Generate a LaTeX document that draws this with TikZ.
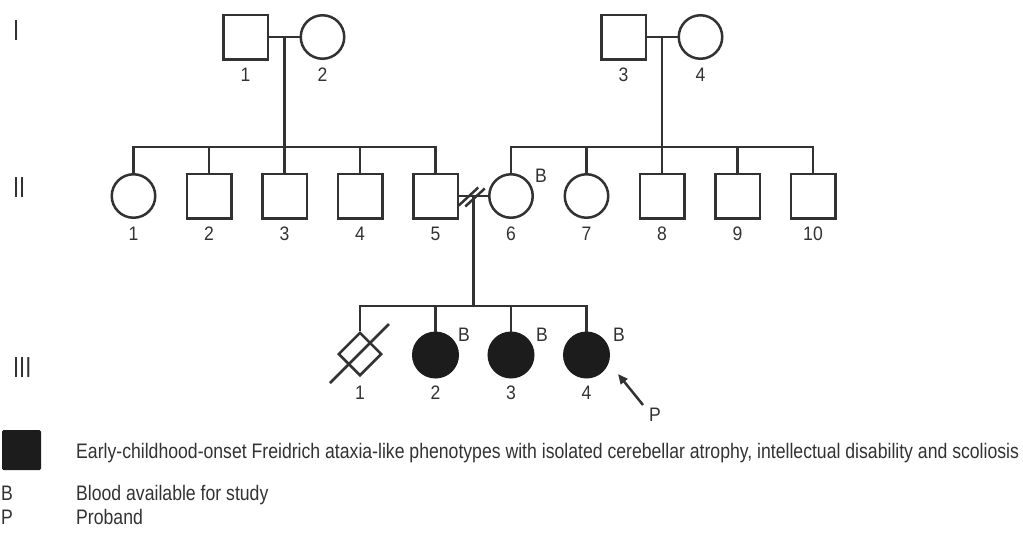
\documentclass[tikz,border=0pt]{standalone}
\usepackage{fontspec}
\setmainfont{Liberation Sans}
\newfontfamily\cond[FakeStretch=0.9]{Liberation Sans}
\newfontfamily\legf[FakeStretch=0.84]{Liberation Sans}
\newfontfamily\romf[FakeStretch=0.75]{Liberation Sans}
\usetikzlibrary{shapes.geometric,arrows.meta}
\definecolor{lc}{RGB}{50,50,50}
\definecolor{fc}{RGB}{28,28,28}
\tikzset{
 ln/.style={draw=lc,line width=2.5pt},
 male/.style={ln,rectangle,minimum size=44.5pt,inner sep=0pt},
 female/.style={ln,circle,minimum size=43.5pt,inner sep=0pt},
 aff/.style={ln,circle,minimum size=44.5pt,inner sep=0pt,fill=fc,draw=fc},
 dead/.style={ln,diamond,minimum size=43.5pt,inner sep=0pt},
 num/.style={font=\cond\fontsize{19.5}{20}\selectfont,text=lc,inner sep=0pt},
 gen/.style={font=\romf\fontsize{29}{30}\selectfont,text=lc,inner sep=0pt,anchor=west},
 leg/.style={font=\legf\fontsize{21}{22}\selectfont,text=lc,inner sep=0pt,anchor=base west},
}
\begin{document}
\begin{tikzpicture}[x=1pt,y=-1pt]
\useasboundingbox (0,0) rectangle (1023,536);
% generation numerals
\node[gen] (gI) at (13,30.5) {I};
\node[gen] (gII) at (13,187.5) {II};
\node[gen] (gIII) at (13,367.5) {III};
% generation I
\node[male] (I1) at (245.5,37) {};
\node[female] (I2) at (322.5,37) {};
\node[male] (I3) at (623.5,37) {};
\node[female] (I4) at (700.5,37) {};
\node[num] (lI1) at (245.5,75) {1};
\node[num] (lI2) at (322.5,75) {2};
\node[num] (lI3) at (623.5,75) {3};
\node[num] (lI4) at (700.5,75) {4};
\coordinate (m1) at (284.5,37);
\coordinate (m2) at (662,37);
\coordinate (sib1) at (284.5,147);
\coordinate (sib2) at (662,147);
\draw[ln] (I1.east) -- (I2.west);
\draw[ln] (I3.east) -- (I4.west);
\draw[ln] (m1) -- (sib1);
\draw[ln] (m2) -- (sib2);
% generation II
\node[female] (II1) at (133.5,196) {};
\node[male] (II2) at (209,196) {};
\node[male] (II3) at (284.5,196) {};
\node[male] (II4) at (360,196) {};
\node[male] (II5) at (435.5,196) {};
\node[female] (II6) at (511,196) {};
\node[female] (II7) at (586.5,196) {};
\node[male] (II8) at (662,196) {};
\node[male] (II9) at (737.5,196) {};
\node[male] (II10) at (813,196) {};
\node[num] (lII1) at (133.5,234) {1};
\node[num] (lII2) at (209,234) {2};
\node[num] (lII3) at (284.5,234) {3};
\node[num] (lII4) at (360,234) {4};
\node[num] (lII5) at (435.5,234) {5};
\node[num] (lII6) at (511,234) {6};
\node[num] (lII7) at (586.5,234) {7};
\node[num] (lII8) at (662,234) {8};
\node[num] (lII9) at (737.5,234) {9};
\node[num] (lII10) at (813,234) {10};
\node[num] (bII6) at (541,176) {B};
\draw[ln] (II1.north) |- (sib1) -| (II5.north);
\foreach \n in {II2,II3,II4} \draw[ln] (\n.north) -- (\n.north |- sib1);
\draw[ln] (II6.north) |- (sib2) -| (II10.north);
\foreach \n in {II7,II8,II9} \draw[ln] (\n.north) -- (\n.north |- sib2);
% marriage II-5 x II-6
\coordinate (m3) at (473.25,196);
\coordinate (sib3) at (473.25,306);
\draw[ln] (II5.east) -- (II6.west);
\draw[ln] ([shift={(-14.5,9.5)}]m3) -- ([shift={(5,-8.5)}]m3);
\draw[ln] ([shift={(-8,10.5)}]m3) -- ([shift={(11.5,-7.5)}]m3);
\draw[ln] (m3) -- (sib3);
% generation III
\node[dead] (III1) at (360,354) {};
\node[aff] (III2) at (435.5,355) {};
\node[aff] (III3) at (511,355) {};
\node[aff] (III4) at (586.5,355) {};
\draw[ln] ([shift={(-30,29)}]III1.center) -- ([shift={(29,-30)}]III1.center);
\draw[ln] (III1.north) |- (sib3) -| (III4.north);
\foreach \n in {III2,III3} \draw[ln] (\n.north) -- (\n.north |- sib3);
\node[num] (lIII1) at (360,392.5) {1};
\node[num] (lIII2) at (435.5,392.5) {2};
\node[num] (lIII3) at (511,392.5) {3};
\node[num] (lIII4) at (586.5,392.5) {4};
\node[num] (bIII2) at (464,335) {B};
\node[num] (bIII3) at (542,335) {B};
\node[num] (bIII4) at (619,335) {B};
\coordinate (ptail) at (643,405);
\coordinate (ptip) at (618,374);
\draw[ln,-{Triangle[length=10pt,width=8.5pt]}] (ptail) -- (ptip);
\node[num] (pIII4) at (655,415) {P};
% legend
\node[fill=fc,minimum width=39pt,minimum height=40pt,inner sep=0pt,rounded corners=1.5pt] (legsq) at (21.5,450) {};
\node[leg] (legA) at (76,458) {Early-childhood-onset Freidrich ataxia-like phenotypes with isolated cerebellar atrophy, intellectual disability and scoliosis};
\node[leg] (legB) at (1,500) {B};
\node[leg] (legBt) at (76,500) {Blood available for study};
\node[leg] (legP) at (1,524) {P};
\node[leg] (legPt) at (76,524) {Proband};
\end{tikzpicture}
\end{document}
